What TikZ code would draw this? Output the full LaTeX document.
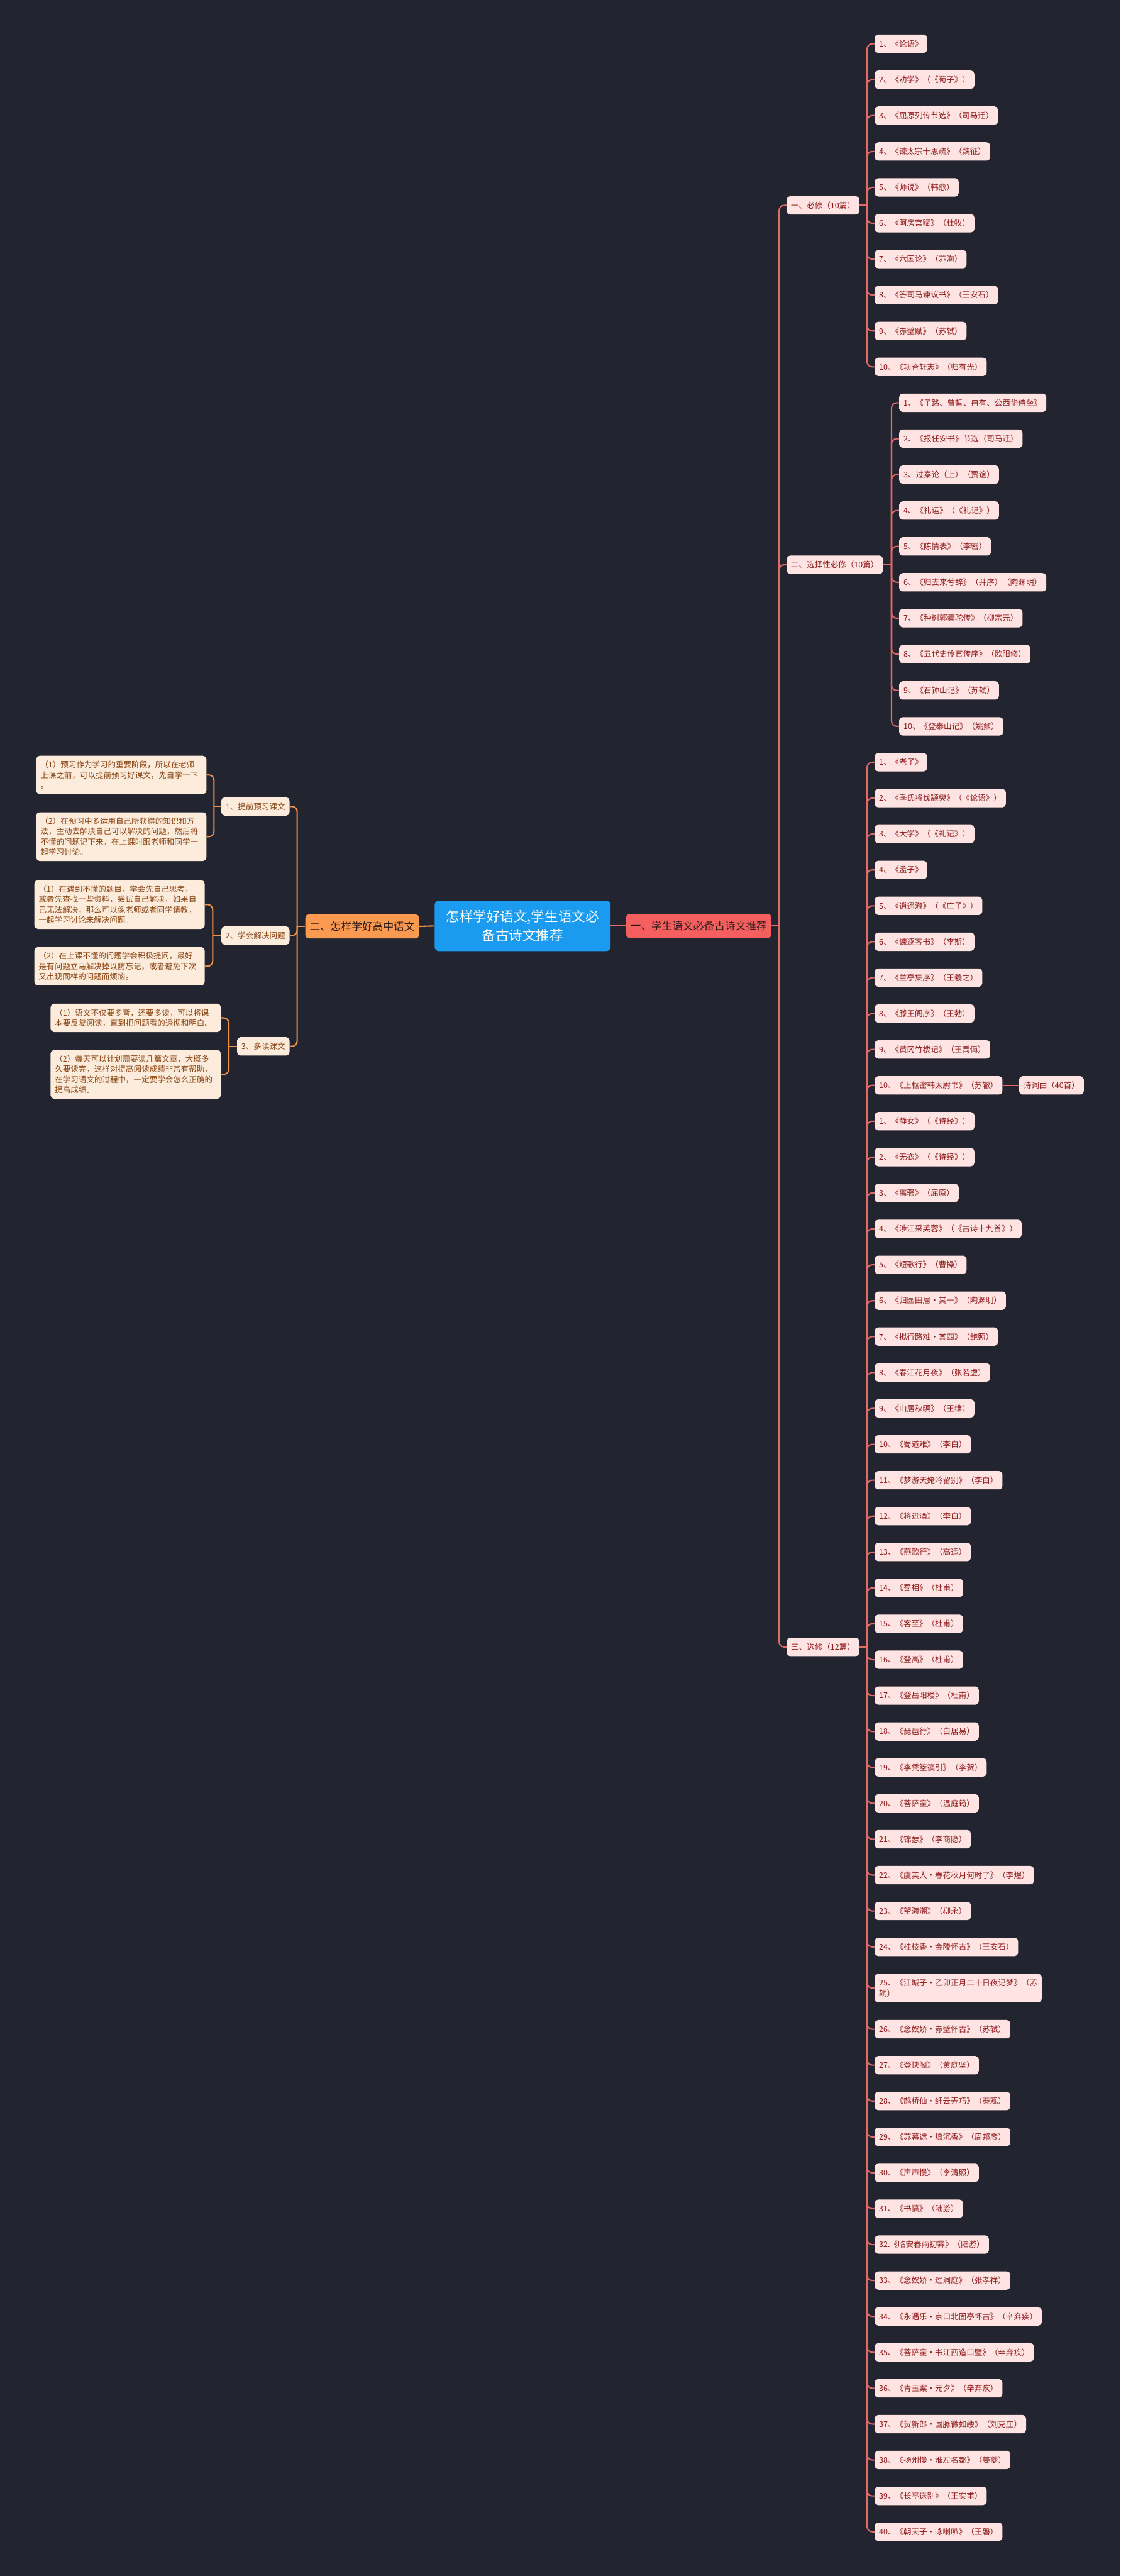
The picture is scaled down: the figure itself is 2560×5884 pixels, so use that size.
\documentclass[tikz,border=0pt]{standalone}
\usepackage{fontspec}
\setmainfont{Noto Sans CJK SC}

\definecolor{bgdark}{HTML}{22252F}
\definecolor{rootblue}{HTML}{1A9BF0}
\definecolor{redbr}{HTML}{F65F5F}
\definecolor{redline}{HTML}{E46A6A}
\definecolor{pinkleaf}{HTML}{FFE4E3}
\definecolor{redtext}{HTML}{8E1B1B}
\definecolor{orangebr}{HTML}{FC9A52}
\definecolor{orangeline}{HTML}{F0924C}
\definecolor{peachleaf}{HTML}{FDEBDC}
\definecolor{browntext}{HTML}{8A4513}
\definecolor{branchtext}{HTML}{2A1A16}

\begin{document}
\begin{tikzpicture}[x=0.5pt, y=-0.5pt,
    font=\fontsize{9pt}{11.75pt}\selectfont,
    rootbox/.style={fill=rootblue, text=white, rounded corners=5pt, minimum width=201pt, minimum height=57.5pt, align=center, inner sep=0pt, font=\fontsize{15.5pt}{21.75pt}\selectfont},
    branchR/.style={fill=redbr, text=branchtext, rounded corners=4pt, anchor=west, inner xsep=5pt, inner ysep=0pt, minimum height=27.5pt, font=\fontsize{12pt}{14pt}\selectfont},
    branchL/.style={branchR, fill=orangebr, anchor=east},
    leafR/.style={fill=pinkleaf, text=redtext, rounded corners=4pt, anchor=west, inner xsep=5pt, inner ysep=0pt, minimum height=21pt},
    midL/.style={fill=peachleaf, text=browntext, rounded corners=4pt, anchor=east, inner xsep=5pt, inner ysep=0pt, minimum height=21pt},
    leafL/.style={fill=peachleaf, text=browntext, rounded corners=4pt, anchor=east, inner xsep=5pt, inner ysep=6pt, text width=184.5pt, align=left},
    lineR/.style={draw=redline, line width=1.5pt, rounded corners=6pt},
    lineL/.style={draw=orangeline, line width=1.5pt, rounded corners=6pt}]

    % Background
    \fill[bgdark] (0,0) rectangle (2560,5884);

    % Draw nodes
    \node[rootbox] (root) at (1194,2115) {怎样学好语文,学生语文必\\备古诗文推荐};
    \node[branchR] (yi) at (1430,2115) {一、学生语文必备古诗文推荐};
    \node[branchL] (er) at (958,2116) {二、怎样学好高中语文};

    \node[leafR] (bixiu) at (1797,469) {一、必修（10篇）};
    \node[leafR] (xuanbi) at (1797,1290) {二、选择性必修（10篇）};
    \node[leafR] (xuanxiu) at (1797,3762) {三、选修（12篇）};

    \node[leafR] (b1) at (1998,100) {1、《论语》};
    \node[leafR] (b2) at (1998,182) {2、《劝学》（《荀子》）};
    \node[leafR] (b3) at (1998,264) {3、《屈原列传节选》（司马迁）};
    \node[leafR] (b4) at (1998,346) {4、《谏太宗十思疏》（魏征）};
    \node[leafR] (b5) at (1998,428) {5、《师说》（韩愈）};
    \node[leafR] (b6) at (1998,510) {6、《阿房宫赋》（杜牧）};
    \node[leafR] (b7) at (1998,592) {7、《六国论》（苏洵）};
    \node[leafR] (b8) at (1998,674) {8、《答司马谏议书》（王安石）};
    \node[leafR] (b9) at (1998,756) {9、《赤壁赋》（苏轼）};
    \node[leafR] (b10) at (1998,838) {10、《项脊轩志》（归有光）};

    \node[leafR] (s1) at (2054,920) {1、《子路、曾皙、冉有、公西华侍坐》};
    \node[leafR] (s2) at (2054,1002) {2、《报任安书》节选（司马迁）};
    \node[leafR] (s3) at (2054,1084) {3、过秦论（上）（贾谊）};
    \node[leafR] (s4) at (2054,1166) {4、《礼运》（《礼记》）};
    \node[leafR] (s5) at (2054,1248) {5、《陈情表》（李密）};
    \node[leafR] (s6) at (2054,1330) {6、《归去来兮辞》（并序）（陶渊明）};
    \node[leafR] (s7) at (2054,1412) {7、《种树郭橐驼传》（柳宗元）};
    \node[leafR] (s8) at (2054,1494) {8、《五代史伶官传序》（欧阳修）};
    \node[leafR] (s9) at (2054,1577) {9、《石钟山记》（苏轼）};
    \node[leafR] (s10) at (2054,1659) {10、《登泰山记》（姚鼐）};

    \node[leafR] (w1) at (1998,1741) {1、《老子》};
    \node[leafR] (w2) at (1998,1823) {2、《季氏将伐颛臾》（《论语》）};
    \node[leafR] (w3) at (1998,1905) {3、《大学》（《礼记》）};
    \node[leafR] (w4) at (1998,1987) {4、《孟子》};
    \node[leafR] (w5) at (1998,2069) {5、《逍遥游》（《庄子》）};
    \node[leafR] (w6) at (1998,2151) {6、《谏逐客书》（李斯）};
    \node[leafR] (w7) at (1998,2233) {7、《兰亭集序》（王羲之）};
    \node[leafR] (w8) at (1998,2315) {8、《滕王阁序》（王勃）};
    \node[leafR] (w9) at (1998,2397) {9、《黄冈竹楼记》（王禹偁）};
    \node[leafR] (w10) at (1998,2479) {10、《上枢密韩太尉书》（苏辙）};
    \node[leafR] (sci) at (2328,2479) {诗词曲（40首）};

    \node[leafR] (p1) at (1998,2561) {1、《静女》（《诗经》）};
    \node[leafR] (p2) at (1998,2643) {2、《无衣》（《诗经》）};
    \node[leafR] (p3) at (1998,2725) {3、《离骚》（屈原）};
    \node[leafR] (p4) at (1998,2807) {4、《涉江采芙蓉》（《古诗十九首》）};
    \node[leafR] (p5) at (1998,2889) {5、《短歌行》（曹操）};
    \node[leafR] (p6) at (1998,2971) {6、《归园田居•其一》（陶渊明）};
    \node[leafR] (p7) at (1998,3053) {7、《拟行路难•其四》（鲍照）};
    \node[leafR] (p8) at (1998,3135) {8、《春江花月夜》（张若虚）};
    \node[leafR] (p9) at (1998,3217) {9、《山居秋暝》（王维）};
    \node[leafR] (p10) at (1998,3299) {10、《蜀道难》（李白）};
    \node[leafR] (p11) at (1998,3381) {11、《梦游天姥吟留别》（李白）};
    \node[leafR] (p12) at (1998,3463) {12、《将进酒》（李白）};
    \node[leafR] (p13) at (1998,3545) {13、《燕歌行》（高适）};
    \node[leafR] (p14) at (1998,3627) {14、《蜀相》（杜甫）};
    \node[leafR] (p15) at (1998,3709) {15、《客至》（杜甫）};
    \node[leafR] (p16) at (1998,3791) {16、《登高》（杜甫）};
    \node[leafR] (p17) at (1998,3873) {17、《登岳阳楼》（杜甫）};
    \node[leafR] (p18) at (1998,3955) {18、《琵琶行》（白居易）};
    \node[leafR] (p19) at (1998,4037) {19、《李凭箜篌引》（李贺）};
    \node[leafR] (p20) at (1998,4119) {20、《菩萨蛮》（温庭筠）};
    \node[leafR] (p21) at (1998,4201) {21、《锦瑟》（李商隐）};
    \node[leafR] (p22) at (1998,4283) {22、《虞美人•春花秋月何时了》（李煜）};
    \node[leafR] (p23) at (1998,4365) {23、《望海潮》（柳永）};
    \node[leafR] (p24) at (1998,4447) {24、《桂枝香•金陵怀古》（王安石）};
    \node[leafR, align=left, minimum height=32.5pt] (p25) at (1998,4541) {25、《江城子•乙卯正月二十日夜记梦》（苏\\轼）};
    \node[leafR] (p26) at (1998,4635) {26、《念奴娇•赤壁怀古》（苏轼）};
    \node[leafR] (p27) at (1998,4717) {27、《登快阁》（黄庭坚）};
    \node[leafR] (p28) at (1998,4799) {28、《鹊桥仙•纤云弄巧》（秦观）};
    \node[leafR] (p29) at (1998,4881) {29、《苏幕遮•燎沉香》（周邦彦）};
    \node[leafR] (p30) at (1998,4963) {30、《声声慢》（李清照）};
    \node[leafR] (p31) at (1998,5045) {31、《书愤》（陆游）};
    \node[leafR] (p32) at (1998,5127) {32.《临安春雨初霁》（陆游）};
    \node[leafR] (p33) at (1998,5209) {33、《念奴娇•过洞庭》（张孝祥）};
    \node[leafR] (p34) at (1998,5291) {34、《永遇乐•京口北固亭怀古》（辛弃疾）};
    \node[leafR] (p35) at (1998,5373) {35、《菩萨蛮•书江西造口壁》（辛弃疾）};
    \node[leafR] (p36) at (1998,5455) {36、《青玉案•元夕》（辛弃疾）};
    \node[leafR] (p37) at (1998,5537) {37、《贺新郎•国脉微如缕》（刘克庄）};
    \node[leafR] (p38) at (1998,5619) {38、《扬州慢•淮左名都》（姜夔）};
    \node[leafR] (p39) at (1998,5701) {39、《长亭送别》（王实甫）};
    \node[leafR] (p40) at (1998,5783) {40、《朝天子•咏喇叭》（王磐）};

    \node[midL] (t1) at (662,1842) {1、提前预习课文};
    \node[midL] (t2) at (662,2137) {2、学会解决问题};
    \node[midL] (t3) at (662,2390) {3、多读课文};

    \node[leafL] (t1a) at (472,1770) {（1）预习作为学习的重要阶段，所以在老师\\上课之前，可以提前预习好课文，先自学一下\\。};
    \node[leafL] (t1b) at (472,1911) {（2）在预习中多运用自己所获得的知识和方\\法，主动去解决自己可以解决的问题，然后将\\不懂的问题记下来，在上课时跟老师和同学一\\起学习讨论。};
    \node[leafL] (t2a) at (468,2066) {（1）在遇到不懂的题目，学会先自己思考，\\或者先查找一些资料，尝试自己解决，如果自\\己无法解决，那么可以像老师或者同学请教，\\一起学习讨论来解决问题。};
    \node[leafL] (t2b) at (468,2207) {（2）在上课不懂的问题学会积极提问，最好\\是有问题立马解决掉以防忘记，或者避免下次\\又出现同样的问题而烦恼。};
    \node[leafL] (t3a) at (505,2325) {（1）语文不仅要多背，还要多读，可以将课\\本要反复阅读，直到把问题看的透彻和明白。};
    \node[leafL] (t3b) at (505,2454) {（2）每天可以计划需要读几篇文章，大概多\\久要读完，这样对提高阅读成绩非常有帮助，\\在学习语文的过程中，一定要学会怎么正确的\\提高成绩。};

    % Trunk points
    \coordinate (yiT) at (1780,2115);
    \coordinate (bxT) at (1981,469);
    \coordinate (sbT) at (2037,1290);
    \coordinate (xxT) at (1981,3762);
    \coordinate (erT) at (679,2116);
    \coordinate (t1T) at (489,1842);
    \coordinate (t2T) at (486,2137);
    \coordinate (t3T) at (523,2390);

    % Draw connections
    \draw[lineR] (root.east) -- (yi.west);
    \draw[lineR] (yi.east) -- (yiT);
    \draw[lineR] (yiT) |- (bixiu.west);
    \draw[lineR] (yiT) |- (xuanbi.west);
    \draw[lineR] (yiT) |- (xuanxiu.west);

    \draw[lineR] (bixiu.east) -- (bxT);
    \draw[lineR] (bxT) |- (b1.west);
    \draw[lineR] (bxT) |- (b2.west);
    \draw[lineR] (bxT) |- (b3.west);
    \draw[lineR] (bxT) |- (b4.west);
    \draw[lineR] (bxT) |- (b5.west);
    \draw[lineR] (bxT) |- (b6.west);
    \draw[lineR] (bxT) |- (b7.west);
    \draw[lineR] (bxT) |- (b8.west);
    \draw[lineR] (bxT) |- (b9.west);
    \draw[lineR] (bxT) |- (b10.west);

    \draw[lineR] (xuanbi.east) -- (sbT);
    \draw[lineR] (sbT) |- (s1.west);
    \draw[lineR] (sbT) |- (s2.west);
    \draw[lineR] (sbT) |- (s3.west);
    \draw[lineR] (sbT) |- (s4.west);
    \draw[lineR] (sbT) |- (s5.west);
    \draw[lineR] (sbT) |- (s6.west);
    \draw[lineR] (sbT) |- (s7.west);
    \draw[lineR] (sbT) |- (s8.west);
    \draw[lineR] (sbT) |- (s9.west);
    \draw[lineR] (sbT) |- (s10.west);

    \draw[lineR] (xuanxiu.east) -- (xxT);
    \draw[lineR] (xxT) |- (w1.west);
    \draw[lineR] (xxT) |- (w2.west);
    \draw[lineR] (xxT) |- (w3.west);
    \draw[lineR] (xxT) |- (w4.west);
    \draw[lineR] (xxT) |- (w5.west);
    \draw[lineR] (xxT) |- (w6.west);
    \draw[lineR] (xxT) |- (w7.west);
    \draw[lineR] (xxT) |- (w8.west);
    \draw[lineR] (xxT) |- (w9.west);
    \draw[lineR] (xxT) |- (w10.west);
    \draw[lineR] (w10.east) -- (sci.west);
    \draw[lineR] (xxT) |- (p1.west);
    \draw[lineR] (xxT) |- (p2.west);
    \draw[lineR] (xxT) |- (p3.west);
    \draw[lineR] (xxT) |- (p4.west);
    \draw[lineR] (xxT) |- (p5.west);
    \draw[lineR] (xxT) |- (p6.west);
    \draw[lineR] (xxT) |- (p7.west);
    \draw[lineR] (xxT) |- (p8.west);
    \draw[lineR] (xxT) |- (p9.west);
    \draw[lineR] (xxT) |- (p10.west);
    \draw[lineR] (xxT) |- (p11.west);
    \draw[lineR] (xxT) |- (p12.west);
    \draw[lineR] (xxT) |- (p13.west);
    \draw[lineR] (xxT) |- (p14.west);
    \draw[lineR] (xxT) |- (p15.west);
    \draw[lineR] (xxT) |- (p16.west);
    \draw[lineR] (xxT) |- (p17.west);
    \draw[lineR] (xxT) |- (p18.west);
    \draw[lineR] (xxT) |- (p19.west);
    \draw[lineR] (xxT) |- (p20.west);
    \draw[lineR] (xxT) |- (p21.west);
    \draw[lineR] (xxT) |- (p22.west);
    \draw[lineR] (xxT) |- (p23.west);
    \draw[lineR] (xxT) |- (p24.west);
    \draw[lineR] (xxT) |- (p25.west);
    \draw[lineR] (xxT) |- (p26.west);
    \draw[lineR] (xxT) |- (p27.west);
    \draw[lineR] (xxT) |- (p28.west);
    \draw[lineR] (xxT) |- (p29.west);
    \draw[lineR] (xxT) |- (p30.west);
    \draw[lineR] (xxT) |- (p31.west);
    \draw[lineR] (xxT) |- (p32.west);
    \draw[lineR] (xxT) |- (p33.west);
    \draw[lineR] (xxT) |- (p34.west);
    \draw[lineR] (xxT) |- (p35.west);
    \draw[lineR] (xxT) |- (p36.west);
    \draw[lineR] (xxT) |- (p37.west);
    \draw[lineR] (xxT) |- (p38.west);
    \draw[lineR] (xxT) |- (p39.west);
    \draw[lineR] (xxT) |- (p40.west);

    \draw[lineL] (root.west) -- (er.east);
    \draw[lineL] (er.west) -- (erT);
    \draw[lineL] (erT) |- (t1.east);
    \draw[lineL] (erT) |- (t2.east);
    \draw[lineL] (erT) |- (t3.east);
    \draw[lineL] (t1.west) -- (t1T);
    \draw[lineL] (t1T) |- (t1a.east);
    \draw[lineL] (t1T) |- (t1b.east);
    \draw[lineL] (t2.west) -- (t2T);
    \draw[lineL] (t2T) |- (t2a.east);
    \draw[lineL] (t2T) |- (t2b.east);
    \draw[lineL] (t3.west) -- (t3T);
    \draw[lineL] (t3T) |- (t3a.east);
    \draw[lineL] (t3T) |- (t3b.east);
\end{tikzpicture}
\end{document}
